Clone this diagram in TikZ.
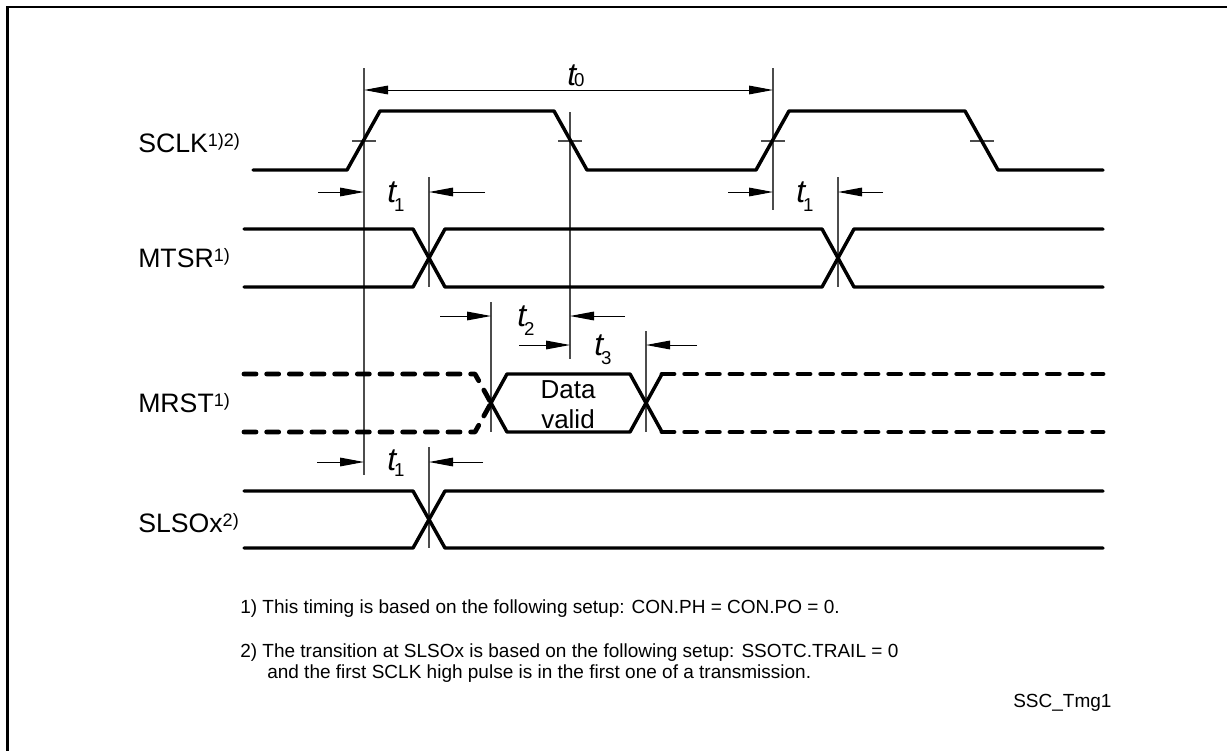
\documentclass[tikz,border=0pt]{standalone}
\usepackage{fontspec}
\setmainfont{Liberation Sans}
\usetikzlibrary{arrows.meta}
\newcommand{\tlab}[2]{{\itshape t}\kern-1.5pt\raisebox{#2}{\fontsize{14}{14}\selectfont #1}}
\newcommand{\supr}[1]{\raisebox{4pt}{\fontsize{13.5}{13.5}\selectfont #1}}
\begin{document}
\begin{tikzpicture}[x=0.75pt,y=-0.75pt,
  wave/.style={line width=2.6pt,line cap=round,line join=round},
  dwave/.style={line width=3.6pt,line cap=round,line join=round,dash pattern=on 9pt off 8pt},
  refl/.style={line width=0.9pt,draw=black!70},
  dim/.style={line width=0.75pt,-{Triangle[length=18pt,width=6.5pt]}},
  dimboth/.style={line width=0.75pt,{Triangle[length=18pt,width=6.5pt]}-{Triangle[length=18pt,width=6.5pt]}},
  sig/.style={anchor=base west,inner sep=0,font=\fontsize{20}{20}\selectfont},
  tl/.style={anchor=base west,inner sep=0,font=\fontsize{24}{24}\selectfont},
  dv/.style={anchor=base,inner sep=0,font=\fontsize{19.5}{19.5}\selectfont},
  note/.style={anchor=base west,inner sep=0,font=\fontsize{14.25}{14.25}\selectfont}]
\useasboundingbox (0,0) rectangle (1227,750);
\clip (0,0) rectangle (1227,750);
\draw[line width=2.2pt] (7.5,7) rectangle (1240,760);

% reference coordinates
\coordinate (r1t) at (364,68);   \coordinate (r1b) at (364,475);
\coordinate (f1t) at (570,112);  \coordinate (f1b) at (570,359);
\coordinate (r2t) at (773,68);   \coordinate (r2b) at (773,210);
\coordinate (m1t) at (429,177);  \coordinate (m1b) at (429,287);
\coordinate (m2t) at (838,177);  \coordinate (m2b) at (838,287);
\coordinate (d1t) at (491,302);  \coordinate (d1b) at (491,432);
\coordinate (d2t) at (646,331);  \coordinate (d2b) at (646,432);
\coordinate (s1t) at (429,447);  \coordinate (s1b) at (429,548);

\draw[refl] (r1t) -- (r1b);
\draw[refl] (f1t) -- (f1b);
\draw[refl] (r2t) -- (r2b);
\draw[refl] (m1t) -- (m1b);
\draw[refl] (m2t) -- (m2b);
\draw[refl] (d1t) -- (d1b);
\draw[refl] (d2t) -- (d2b);
\draw[refl] (s1t) -- (s1b);

% threshold ticks
\draw[refl] (352,141) -- (376,141);
\draw[refl] (558,141) -- (582,141);
\draw[refl] (761,141) -- (785,141);
\draw[refl] (970,141) -- (994,141);

% SCLK
\draw[wave] (253,170) -- (347,170) -- (380,111) -- (554,111) -- (587,170) -- (756,170) -- (789,111) -- (965,111) -- (998,170) -- (1103,170);
% MTSR
\draw[wave] (244,229) -- (413,229) -- (445,287) -- (822,287) -- (854,229) -- (1103,229);
\draw[wave] (244,287) -- (413,287) -- (445,229) -- (822,229) -- (854,287) -- (1103,287);
% MRST
\draw[dwave] (244,374) -- (475,374) -- (491,403);
\draw[dwave] (244,432) -- (475,432) -- (491,403);
\draw[wave] (491,403) -- (507,374) -- (630,374) -- (646,403) -- (630,432) -- (507,432) -- cycle;
\draw[wave] (646,403) -- (662,374);
\draw[wave] (646,403) -- (662,432);
\draw[dwave] (662,374) -- (1103,374);
\draw[dwave] (662,432) -- (1103,432);
% SLSOx
\draw[wave] (244,491) -- (413,491) -- (445,548) -- (1103,548);
\draw[wave] (244,548) -- (413,548) -- (445,491) -- (1103,491);

% dimension arrows
\draw[dimboth] (364,90) -- (773,90);
\draw[dim] (318,192) -- (364,192);
\draw[dim] (485,192) -- (429,192);
\draw[dim] (728,192) -- (773,192);
\draw[dim] (883,192) -- (838,192);
\draw[dim] (440,316) -- (491,316);
\draw[dim] (625,316) -- (570,316);
\draw[dim] (519,345) -- (570,345);
\draw[dim] (697,345) -- (646,345);
\draw[dim] (317,462) -- (364,462);
\draw[dim] (483,462) -- (429,462);

% t labels
\node[tl] (t0) at (567,85) {\tlab{0}{-1pt}};
\node[tl] (t1a) at (387,202) {\tlab{1}{-7pt}};
\node[tl] (t1b) at (796,202) {\tlab{1}{-7pt}};
\node[tl] (t2) at (517,326) {\tlab{2}{-7pt}};
\node[tl] (t3) at (594,355) {\tlab{3}{-7pt}};
\node[tl] (t1c) at (387,470) {\tlab{1}{-5pt}};

% data valid
\node[dv] (dv1) at (568,398) {Data};
\node[dv] (dv2) at (568,428) {valid};

% signal labels
\node[sig] (lsclk) at (138,152) {SCLK\supr{1)2)}};
\node[sig] (lmtsr) at (138,267) {MTSR\supr{1)}};
\node[sig] (lmrst) at (138,412) {MRST\supr{1)}};
\node[sig] (lslso) at (138,532) {SLSOx\supr{2)}};

% notes
\node[note] (n1) at (240,613) {1) This timing is based on the following setup: CON.PH = CON.PO = 0.};
\node[note] (n2) at (240,657) {2) The transition at SLSOx is based on the following setup: SSOTC.TRAIL = 0};
\node[note] (n3) at (267,678) {and the first SCLK high pulse is in the first one of a transmission.};
\node[note] (id) at (1013,707) {SSC\_Tmg1};
\end{tikzpicture}
\end{document}
